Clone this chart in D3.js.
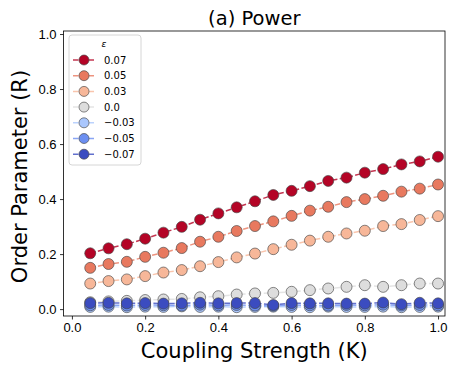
<!DOCTYPE html>
<html>
<head>
<meta charset="utf-8">
<script src="https://cdn.jsdelivr.net/npm/d3@7"></script>
<style>
  body { margin: 0; background: #fff; }
  svg { font-family: "DejaVu Sans", sans-serif; }
</style>
</head>
<body>
<svg width="458" height="370"></svg>
<script>
var kValues = [0.05, 0.10, 0.15, 0.20, 0.25, 0.30, 0.35, 0.40, 0.45, 0.50,
               0.55, 0.60, 0.65, 0.70, 0.75, 0.80, 0.85, 0.90, 0.95, 1.00];
var epsLabels = ["0.07", "0.05", "0.03", "0.0", "\u22120.03", "\u22120.05", "\u22120.07"];
var epsColors = ["#b40426", "#e8795f", "#f7b799", "#dddddd", "#aac7fd", "#6c8ff1", "#3b4cc0"];

var r007 = [0.203, 0.221, 0.236, 0.256, 0.278, 0.299, 0.325, 0.348, 0.370, 0.392,
            0.415, 0.430, 0.447, 0.466, 0.478, 0.496, 0.509, 0.526, 0.537, 0.554];
var r005 = [0.150, 0.164, 0.172, 0.190, 0.205, 0.222, 0.245, 0.263, 0.284, 0.302,
            0.319, 0.339, 0.358, 0.372, 0.389, 0.400, 0.412, 0.427, 0.438, 0.453];
var r003 = [0.093, 0.102, 0.108, 0.120, 0.133, 0.142, 0.156, 0.171, 0.188, 0.202,
            0.218, 0.234, 0.249, 0.263, 0.275, 0.285, 0.302, 0.309, 0.324, 0.338];
var r000 = [0.025, 0.028, 0.030, 0.033, 0.035, 0.037, 0.043, 0.047, 0.053, 0.057,
            0.059, 0.063, 0.069, 0.075, 0.081, 0.087, 0.081, 0.087, 0.093, 0.093];
var rm003 = [0.008, 0.009, 0.007, 0.009, 0.008, 0.010, 0.008, 0.009, 0.007, 0.008,
             0.009, 0.008, 0.007, 0.009, 0.008, 0.008, 0.009, 0.007, 0.008, 0.009];
var rm005 = [0.014, 0.015, 0.013, 0.015, 0.014, 0.013, 0.016, 0.014, 0.015, 0.013,
             0.012, 0.015, 0.014, 0.013, 0.015, 0.014, 0.016, 0.013, 0.015, 0.014];
var rm007 = [0.022, 0.023, 0.021, 0.022, 0.020, 0.021, 0.023, 0.021, 0.022, 0.022,
             0.015, 0.022, 0.021, 0.021, 0.020, 0.020, 0.024, 0.018, 0.023, 0.021];
var seriesValues = [r007, r005, r003, r000, rm003, rm005, rm007];

var xTicks = [0, 0.2, 0.4, 0.6, 0.8, 1.0];
var yTicks = [0, 0.2, 0.4, 0.6, 0.8, 1.0];

var svg = d3.select("svg");
var plotLeft = 63.5, plotRight = 445, plotTop = 31, plotBottom = 316;

var x = d3.scaleLinear().domain([-0.023, 1.019]).range([plotLeft, plotRight]);
var y = d3.scaleLinear().domain([-0.025, 1.011]).range([plotBottom, plotTop]);

var series = seriesValues.map(function(vals, i) {
  return {label: epsLabels[i], color: epsColors[i],
          points: vals.map(function(v, j) { return {k: kValues[j], r: v}; })};
});

var line = d3.line()
  .x(function(d) { return x(d.k); })
  .y(function(d) { return y(d.r); });

var plot = svg.append("g");
series.forEach(function(s) {
  var g = plot.append("g");
  g.append("path")
    .attr("d", line(s.points))
    .attr("fill", "none")
    .attr("stroke", s.color)
    .attr("stroke-opacity", 0.8)
    .attr("stroke-width", 1.5)
    .attr("stroke-dasharray", "5.5,2.4");
  g.selectAll("circle")
    .data(s.points)
    .enter()
    .append("circle")
      .attr("cx", function(d) { return x(d.k); })
      .attr("cy", function(d) { return y(d.r); })
      .attr("r", 5.5)
      .attr("fill", s.color)
      .attr("stroke", "#444")
      .attr("stroke-opacity", 0.8)
      .attr("stroke-width", 0.8);
});

// axes
svg.append("g")
  .attr("transform", "translate(0," + plotBottom + ")")
  .call(d3.axisBottom(x).tickValues(xTicks).tickFormat(d3.format(".1f")).tickSize(3.5).tickPadding(3.5))
  .call(function(g) { g.select(".domain").remove(); })
  .selectAll("text").attr("font-size", 13).attr("fill", "#000");
svg.append("g")
  .attr("transform", "translate(" + plotLeft + ",0)")
  .call(d3.axisLeft(y).tickValues(yTicks).tickFormat(d3.format(".1f")).tickSize(3.5).tickPadding(3.5))
  .call(function(g) { g.select(".domain").remove(); })
  .selectAll("text").attr("font-size", 13).attr("fill", "#000");
svg.selectAll(".tick line").attr("stroke", "#000").attr("stroke-width", 0.8);

svg.append("rect")
  .attr("x", plotLeft).attr("y", plotTop)
  .attr("width", plotRight - plotLeft).attr("height", plotBottom - plotTop)
  .attr("fill", "none").attr("stroke", "#000").attr("stroke-width", 0.8);

// labels
svg.append("text")
  .attr("x", (plotLeft + plotRight) / 2).attr("y", 25)
  .attr("text-anchor", "middle").attr("font-size", 19.5)
  .text("(a) Power");
svg.append("text")
  .attr("x", (plotLeft + plotRight) / 2).attr("y", 358)
  .attr("text-anchor", "middle").attr("font-size", 21)
  .text("Coupling Strength (K)");
svg.append("text")
  .attr("transform", "translate(27,176.5) rotate(-90)")
  .attr("text-anchor", "middle").attr("font-size", 21)
  .text("Order Parameter (R)");

// legend
var legend = svg.append("g").attr("transform", "translate(69,35)");
legend.append("rect")
  .attr("width", 72).attr("height", 130).attr("rx", 3)
  .attr("fill", "#fff").attr("fill-opacity", 0.8)
  .attr("stroke", "#ccc").attr("stroke-width", 0.8);
legend.append("text")
  .attr("x", 35).attr("y", 12)
  .attr("text-anchor", "middle").attr("font-size", 9).attr("font-style", "italic")
  .text("\u03b5");
var rows = legend.selectAll(".row")
  .data(series)
  .enter()
  .append("g")
    .attr("transform", function(d, i) { return "translate(0," + (25 + i * 15.7) + ")"; });
rows.append("line")
  .attr("x1", 4).attr("x2", 25)
  .attr("stroke", function(d) { return d.color; })
  .attr("stroke-opacity", 0.8)
  .attr("stroke-width", 1.5)
  .attr("stroke-dasharray", "5.5,2.4");
rows.append("circle")
  .attr("cx", 15).attr("r", 5)
  .attr("fill", function(d) { return d.color; })
  .attr("stroke", "#444").attr("stroke-opacity", 0.8).attr("stroke-width", 0.8);
rows.append("text")
  .attr("x", 35).attr("dy", "0.35em")
  .attr("font-size", 10)
  .text(function(d) { return d.label; });
</script>
</body>
</html>
